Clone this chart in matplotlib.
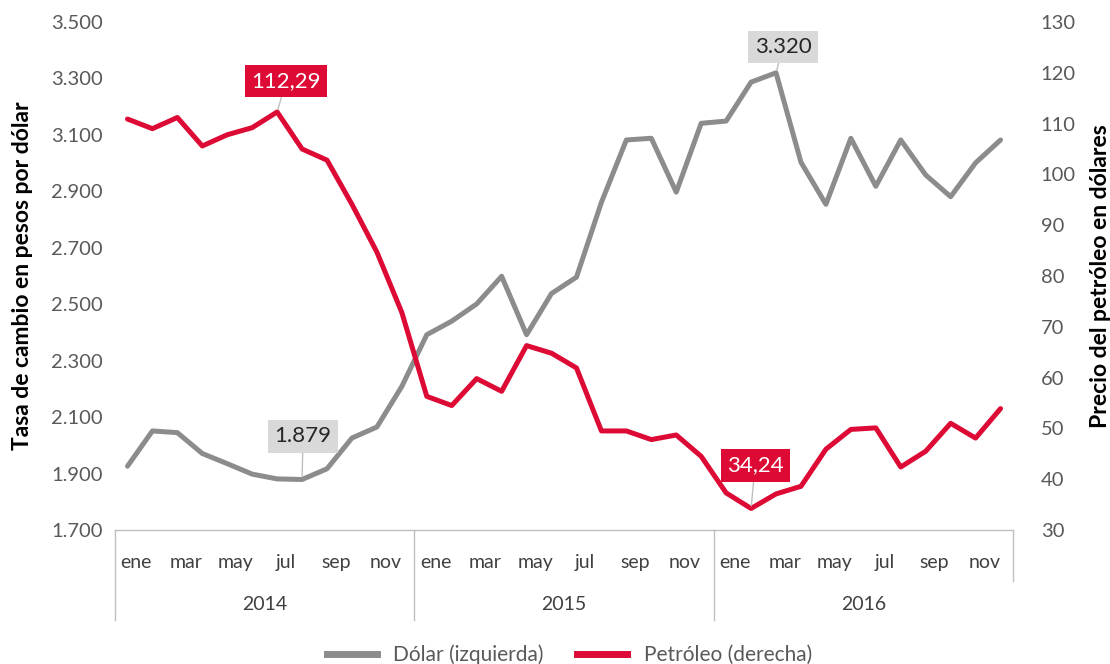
import numpy as np
import matplotlib
matplotlib.use('Agg')
import matplotlib.pyplot as plt
from matplotlib.ticker import FuncFormatter

plt.rcParams['font.family'] = ['Lato', 'DejaVu Sans']

# Datos (ene 2014 - dic 2016)
meses = ['ene', 'feb', 'mar', 'abr', 'may', 'jun', 'jul', 'ago', 'sep', 'oct', 'nov', 'dic']
anios = ['2014', '2015', '2016']
etiquetas_mes = ['ene', '', 'mar', '', 'may', '', 'jul', '', 'sep', '', 'nov', '']

dolar = [1926, 2051, 2045, 1971, 1935, 1898, 1881, 1879, 1917, 2026, 2065, 2209,
         2392, 2440, 2501, 2599, 2392, 2538, 2596, 2861, 3082, 3088, 2897, 3141,
         3149, 3287, 3320, 3003, 2854, 3088, 2918, 3082, 2958, 2881, 3001, 3082]
petroleo = [110.9, 109.0, 111.2, 105.6, 107.8, 109.2, 112.29, 105.0, 102.8, 94.1, 84.7, 72.8,
            56.3, 54.5, 59.8, 57.3, 66.3, 64.8, 61.9, 49.5, 49.5, 47.8, 48.7, 44.5,
            37.3, 34.24, 37.1, 38.6, 45.9, 49.8, 50.1, 42.4, 45.5, 51.0, 48.1, 53.9]

gris = '#8c8c8c'
rojo = '#dc0a35'
texto = '#595959'

x = np.arange(len(dolar))

fig = plt.figure(figsize=(11.1, 6.64), dpi=100)
ax = fig.add_axes([115/1110, 1 - 530/664, 898/1110, 508/664])
ax2 = ax.twinx()

ax.plot(x, dolar, color=gris, lw=3.6, solid_joinstyle='round', solid_capstyle='round')
ax2.plot(x, petroleo, color=rojo, lw=3.6, solid_joinstyle='round', solid_capstyle='round')

ax.set_xlim(-0.5, 35.5)
ax.set_ylim(1700, 3500)
ax.set_yticks(np.arange(1700, 3501, 200))
ax.yaxis.set_major_formatter(FuncFormatter(lambda v, p: f'{int(v):,}'.replace(',', '.')))
ax2.set_ylim(30, 130)
ax2.set_yticks(np.arange(30, 131, 10))

for a in (ax, ax2):
    for s in a.spines.values():
        s.set_visible(False)
ax.spines['bottom'].set_visible(True)
ax.spines['bottom'].set_color('#bfbfbf')
ax.spines['bottom'].set_linewidth(1)
ax.set_xticks([])
ax.tick_params(axis='y', length=0, pad=9, labelsize=14.5, labelcolor=texto)
ax2.tick_params(axis='y', length=0, pad=20, labelsize=14.5, labelcolor=texto)

ax.set_ylabel('Tasa de cambio en pesos por dólar', fontsize=16.5, fontweight='bold', color='black', labelpad=13)
ax2.set_ylabel('Precio del petróleo en dólares', fontsize=16.5, fontweight='bold', color='black', labelpad=10)

# Eje de categorías en dos niveles
tr = ax.get_xaxis_transform()
for i in range(len(x)):
    lab = etiquetas_mes[i % 12]
    if lab:
        ax.text(x[i] + 0.35, -0.063, lab, transform=tr, ha='center', va='center',
                fontsize=14, color='#404040')
for k, anio in enumerate(anios):
    ax.text(12 * k + 5.5, -0.146, anio, transform=tr, ha='center', va='center',
            fontsize=14, color='#404040')
for xs in [-0.5, 11.5, 23.5]:
    ax.plot([xs, xs], [0, -0.177], transform=tr, color='#bfbfbf', lw=1, clip_on=False)
ax.plot([35.5, 35.5], [0, -0.1], transform=tr, color='#bfbfbf', lw=1, clip_on=False)

# Etiquetas de máximos y mínimos
def etiqueta(a, i, val, txt, dx, dy, fc, tc):
    a.annotate(txt, xy=(x[i], val), xytext=(dx, dy), textcoords='offset pixels',
               ha='center', va='center', fontsize=16, color=tc,
               bbox=dict(boxstyle='square,pad=0.28', fc=fc, ec='none'),
               arrowprops=dict(arrowstyle='-', color='#bfbfbf', lw=1, shrinkA=0, shrinkB=2))

i_max_p = int(np.argmax(petroleo))
i_min_p = int(np.argmin(petroleo))
i_max_d = int(np.argmax(dolar))
i_min_d = int(np.argmin(dolar))
etiqueta(ax2, i_max_p, petroleo[i_max_p], '112,29', 9, 31, rojo, 'white')
etiqueta(ax2, i_min_p, petroleo[i_min_p], '34,24', 4, 43, rojo, 'white')
etiqueta(ax, i_max_d, dolar[i_max_d], '3.320', 7, 26, '#d9d9d9', '#262626')
etiqueta(ax, i_min_d, dolar[i_min_d], '1.879', 1, 43, '#d9d9d9', '#262626')

h1 = plt.Line2D([], [], color=gris, lw=5)
h2 = plt.Line2D([], [], color=rojo, lw=5)
fig.legend([h1, h2], ['Dólar (izquierda)', 'Petróleo (derecha)'], loc='lower center',
           bbox_to_anchor=(0.513, -0.03), ncol=2, frameon=False, fontsize=15,
           handlelength=2.4, columnspacing=1.6, labelcolor=texto)

fig.savefig('out.png', dpi=100)
